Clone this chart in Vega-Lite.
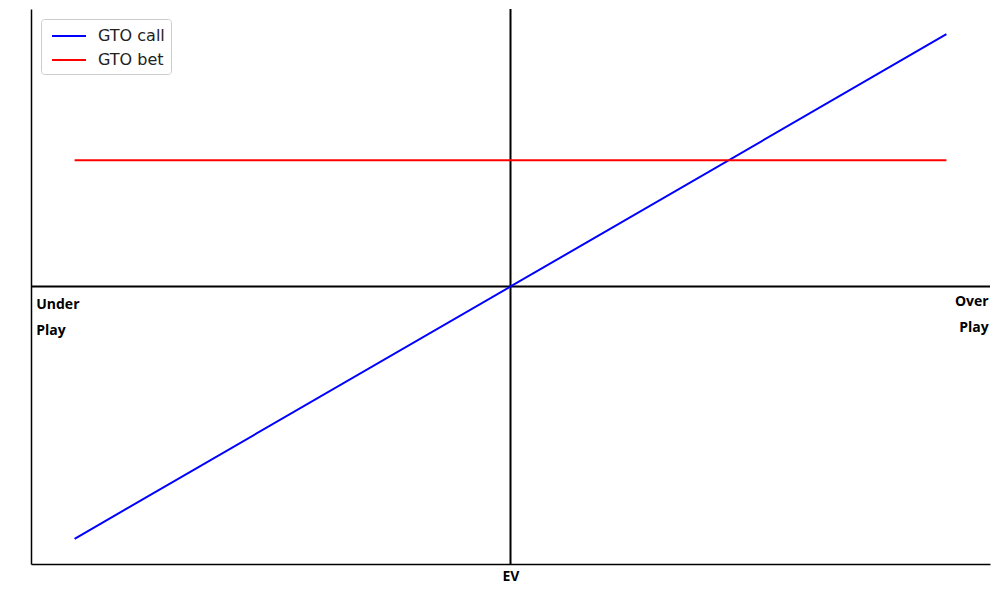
{
  "$schema": "https://vega.github.io/schema/vega-lite/v6.json",
  "width": 959,
  "height": 555,
  "autosize": {"type": "none"},
  "padding": {"left": 31, "top": 9, "right": 10, "bottom": 32},
  "background": "white",
  "config": {
    "view": {"stroke": null},
    "axis": {"grid": false, "ticks": false, "labels": false, "domainColor": "black", "domainWidth": 1.5}
  },
  "datasets": {
    "lines": [
      {"x": -1, "y": -1, "series": "GTO call"},
      {"x": 1, "y": 1, "series": "GTO call"},
      {"x": -1, "y": 0.5, "series": "GTO bet"},
      {"x": 1, "y": 0.5, "series": "GTO bet"}
    ],
    "labels": [
      {"x": -1.088, "y": -0.074, "text": "Under", "side": "left"},
      {"x": -1.088, "y": -0.177, "text": "Play", "side": "left"},
      {"x": 1.097, "y": -0.062, "text": "Over", "side": "right"},
      {"x": 1.097, "y": -0.165, "text": "Play", "side": "right"}
    ]
  },
  "layer": [
    {
      "data": {"values": [{"v": 0}]},
      "mark": {"type": "rule", "color": "black", "strokeWidth": 2},
      "encoding": {
        "x": {"field": "v", "type": "quantitative", "scale": {"domain": [-1.1, 1.1], "nice": false, "zero": false},
          "axis": {"title": "EV", "titleFont": "Open Sans", "titleFontWeight": "bold", "titleFontSize": 14, "titlePadding": 5, "titleColor": "black"}}
      }
    },
    {
      "data": {"values": [{"v": 0}]},
      "mark": {"type": "rule", "color": "black", "strokeWidth": 2},
      "encoding": {
        "y": {"field": "v", "type": "quantitative", "scale": {"domain": [-1.1, 1.1], "nice": false, "zero": false},
          "axis": {"title": null}}
      }
    },
    {
      "data": {"name": "lines"},
      "mark": {"type": "line", "strokeWidth": 2},
      "encoding": {
        "x": {"field": "x", "type": "quantitative"},
        "y": {"field": "y", "type": "quantitative"},
        "color": {
          "field": "series", "type": "nominal",
          "scale": {"domain": ["GTO call", "GTO bet"], "range": ["#0000ff", "#ff0000"]},
          "legend": {
            "title": null, "orient": "none", "legendX": 10, "legendY": 10,
            "symbolType": "M-1,0H2.4", "symbolSize": 400, "symbolStrokeWidth": 2, "symbolOffset": 4,
            "labelFont": "DejaVu Sans", "labelFontSize": 16, "labelColor": "#222222",
            "labelOffset": 25, "rowPadding": 5,
            "fillColor": "white", "strokeColor": "#cccccc", "cornerRadius": 3, "padding": 6
          }
        },
        "detail": {"field": "series"}
      }
    },
    {
      "data": {"name": "labels"},
      "transform": [{"filter": "datum.side == 'left'"}],
      "mark": {"type": "text", "font": "Open Sans", "fontWeight": "bold", "fontSize": 14, "color": "black", "baseline": "middle", "align": "left"},
      "encoding": {
        "x": {"field": "x", "type": "quantitative"},
        "y": {"field": "y", "type": "quantitative"},
        "text": {"field": "text"}
      }
    },
    {
      "data": {"name": "labels"},
      "transform": [{"filter": "datum.side == 'right'"}],
      "mark": {"type": "text", "font": "Open Sans", "fontWeight": "bold", "fontSize": 14, "color": "black", "baseline": "middle", "align": "right"},
      "encoding": {
        "x": {"field": "x", "type": "quantitative"},
        "y": {"field": "y", "type": "quantitative"},
        "text": {"field": "text"}
      }
    }
  ]
}
